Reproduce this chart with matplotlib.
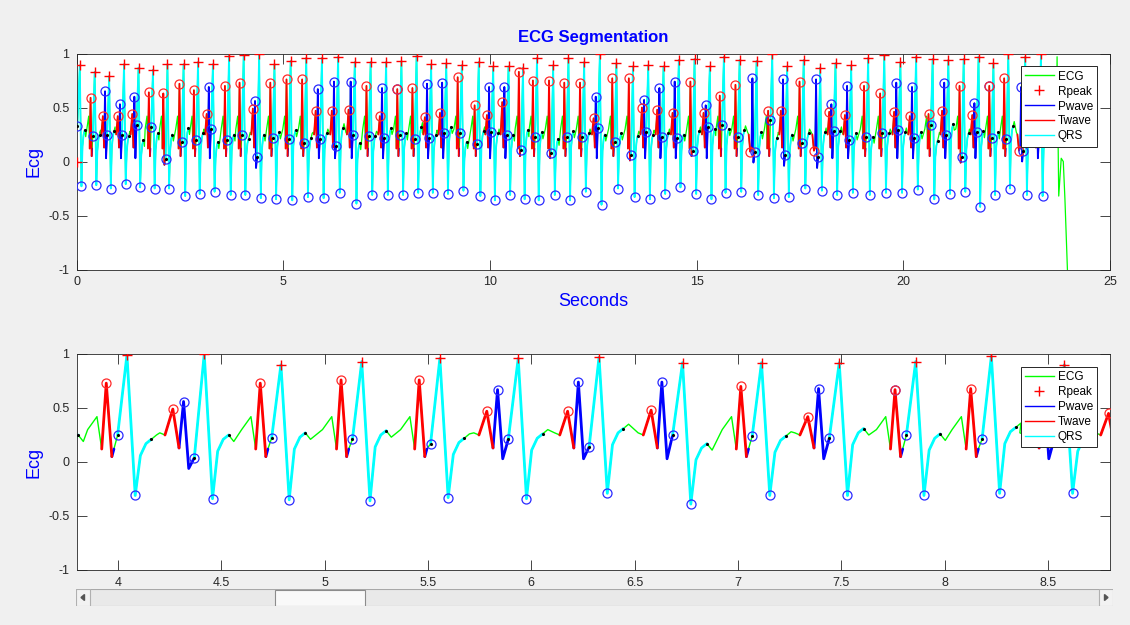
import numpy as np
import matplotlib
matplotlib.use('Agg')
import matplotlib.pyplot as plt
from matplotlib.lines import Line2D
from matplotlib.patches import Rectangle, Polygon

plt.rcParams.update({
    'font.family': ['Liberation Sans', 'DejaVu Sans'],
    'font.size': 9,
})

nan = np.nan

# beat table (seconds / ecg units)
r_t = [0.08, 0.44, 0.79, 1.15, 1.50, 1.85, 2.20, 2.59, 2.94, 3.30, 3.69,
       4.044, 4.418, 4.789, 5.18, 5.558, 5.937, 6.328, 6.732, 7.114, 7.49, 7.86, 8.226, 8.579,
       8.945, 9.32, 9.73, 10.08, 10.45, 10.80, 11.14, 11.53, 11.90, 12.28,
       12.66, 13.06, 13.46, 13.83, 14.20, 14.57, 14.95, 15.32, 15.66, 16.04, 16.45, 16.83,
       17.19, 17.59, 17.99, 18.36, 18.74,
       19.15, 19.54, 19.93, 20.31, 20.71, 21.09, 21.46, 21.82, 22.18, 22.54, 22.95, 23.33]
r_v = [0.89, 0.83, 0.79, 0.90, 0.87, 0.85, 0.90, 0.90, 0.92, 0.90, 0.98,
       0.99, 1.00, 0.90, 0.93, 0.96, 0.96, 0.97, 0.92, 0.92, 0.92, 0.93, 0.98, 0.90,
       0.91, 0.89, 0.92, 0.88, 0.88, 0.87, 0.96, 0.89, 0.96, 0.92,
       1.00, 0.91, 0.88, 0.89, 0.88, 0.94, 0.95, 0.88, 0.97, 0.94, 0.93, 1.00,
       0.88, 0.94, 0.87, 0.91, 0.89,
       0.96, 0.99, 0.92, 0.97, 0.95, 0.94, 0.95, 0.97, 0.91, 1.00, 0.97, 1.00]
s_v = [-0.23, -0.22, -0.25, -0.21, -0.24, -0.25, -0.25, -0.32, -0.30, -0.28, -0.31,
       -0.31, -0.34, -0.35, -0.36, -0.33, -0.34, -0.29, -0.39, -0.31, -0.31, -0.31, -0.29, -0.29,
       -0.30, -0.27, -0.32, -0.36, -0.31, -0.35, -0.36, -0.31, -0.36, -0.28,
       -0.40, -0.25, -0.33, -0.35, -0.30, -0.24, -0.30, -0.35, -0.29, -0.28, -0.31, -0.34,
       -0.33, -0.25, -0.27, -0.31, -0.29,
       -0.31, -0.29, -0.29, -0.26, -0.35, -0.30, -0.28, -0.42, -0.31, -0.25, -0.31, -0.32]
# red circled wave ("Twave") and blue circled wave ("Pwave") peaks, nan = none
t_peak = [nan, 0.59, 0.42, 0.42, 0.44, 0.64, 0.63, 0.72, 0.66, 0.44, 0.70,
          0.73, 0.49, 0.73, 0.76, 0.76, 0.47, 0.47, 0.48, 0.70, 0.42, 0.67, 0.68, 0.41,
          0.45, 0.78, 0.52, 0.43, 0.55, 0.83, 0.75, 0.75, 0.73, 0.73,
          0.40, 0.77, 0.77, 0.50, 0.48, 0.45, 0.74, 0.45, 0.61, 0.71, 0.09, 0.47,
          0.47, 0.74, 0.10, 0.46, 0.43,
          0.70, 0.63, 0.46, 0.42, 0.44, 0.47, 0.70, 0.43, 0.70, 0.77, 0.10, 0.45]
p_peak = [nan, nan, 0.65, 0.53, 0.60, nan, nan, nan, nan, 0.69, nan,
          nan, 0.56, nan, nan, nan, 0.67, 0.74, 0.74, nan, 0.68, nan, nan, 0.72,
          0.73, nan, nan, 0.69, 0.69, nan, nan, nan, nan, nan,
          0.60, nan, nan, 0.57, 0.68, 0.74, nan, 0.52, nan, nan, 0.77, nan,
          0.76, nan, 0.76, 0.53, 0.70,
          nan, nan, 0.73, 0.69, nan, 0.73, nan, 0.54, nan, nan, 0.69, 0.65]
qrs_on = [0.33, 0.24, 0.25, 0.25, 0.34, 0.32, 0.02, 0.18, 0.20, 0.30, 0.20,
          0.25, 0.04, 0.22, 0.21, 0.17, 0.21, 0.14, 0.25, 0.24, 0.22, 0.25, 0.21, 0.22,
          0.26, 0.26, 0.16, 0.27, 0.25, 0.11, 0.23, 0.08, 0.23, 0.23,
          0.31, 0.18, 0.06, 0.27, 0.23, 0.22, 0.10, 0.32, 0.34, 0.23, 0.09, 0.38,
          0.06, 0.17, 0.04, 0.28, 0.20,
          0.23, 0.26, 0.29, 0.22, 0.34, 0.25, 0.04, 0.27, 0.22, 0.21, 0.10, 0.20]
qrs_off = [0.29, 0.25, 0.28, 0.24, 0.20, 0.26, 0.25, 0.31, 0.26, 0.18, 0.25,
           0.21, 0.25, 0.27, 0.29, 0.22, 0.26, 0.31, 0.17, 0.24, 0.31, 0.26, 0.32, 0.25,
           0.32, 0.18, 0.28, 0.26, 0.25, 0.29, 0.27, 0.21, 0.28, 0.26,
           0.25, 0.26, 0.24, 0.25, 0.26, 0.25, 0.28, 0.30, 0.30, 0.29, 0.27, 0.22,
           0.25, 0.26, 0.27, 0.28, 0.26,
           0.23, 0.26, 0.27, 0.27, 0.19, 0.35, 0.26, 0.28, 0.27, 0.33, 0.26, 0.26]
shared_circle = [21, 59]       # blue circle sitting on the red peak
stray_rpeak_t = [0.0]
stray_rpeak_v = [0.0]
# end of the record (lead-off artefact)
tail_t = [23.55, 23.70, 23.72, 23.76, 23.82, 23.87, 23.91, 23.97]
tail_v = [0.28, 0.30, 0.97, -0.32, 0.03, 0.0, -0.35, -1.0]

BUMP = 0.42      # small green bump before the red wave
OFF_DT = 0.118   # QRS offset after the R peak

ecg = []
tw_seg, pw_seg, qrs_seg = [], [], []
red_circ, blue_circ, dots = [], [], []

for i, r in enumerate(r_t):
    on, off = qrs_on[i], qrs_off[i]
    w1, w2 = t_peak[i], p_peak[i]
    path = []
    if i == 0:
        on_t = r - 0.06
    else:
        t0 = r_t[i - 1] + OFF_DT
        if np.isnan(w2):
            red_end = min(0.05, on - 0.05)
            pre = [(t0 + 0.025, qrs_off[i - 1] - 0.06), (r - 0.19, 0.30), (r - 0.145, BUMP)]
            tw = [(r - 0.122, 0.12), (r - 0.10, w1), (r - 0.073, red_end)]
            pw = [(r - 0.073, red_end), (r - 0.063, red_end + 0.07)]
            on_t = r - 0.045
            red_circ.append((r - 0.10, w1))
            if i in shared_circle:
                blue_circ.append((r - 0.10, w1))
        else:
            bdip = min(0.03, on - 0.1)
            pre = [(t0 + 0.025, qrs_off[i - 1] + 0.04), (r - 0.215, 0.27)]
            tw = [(r - 0.19, 0.25), (r - 0.152, w1), (r - 0.122, 0.13)]
            pw = [(r - 0.122, 0.13), (r - 0.10, w2), (r - 0.075, bdip), (r - 0.048, on)]
            on_t = r - 0.048
            red_circ.append((r - 0.152, w1))
            blue_circ.append((r - 0.10, w2))
        pre = [p for p in pre if t0 + 0.005 < p[0] < tw[0][0] - 0.005]
        path += pre + tw + pw[1:]
        tw_seg.append(tw)
        pw_seg.append(pw)
    qrs = [(on_t, on), (r, r_v[i]), (r + 0.04, s_v[i]), (r + 0.065, off - 0.15),
           (r + 0.092, off - 0.04), (r + OFF_DT, off)]
    if not path or path[-1][0] < on_t:
        path.append((on_t, on))
    path += qrs[1:]
    ecg += path
    qrs_seg.append(qrs)
    blue_circ.append((r + 0.04, s_v[i]))
    blue_circ.append((on_t, on))
    dots += [(on_t, on), (r + OFF_DT, off)]

ecg += list(zip(tail_t, tail_v))


def joined(segs):
    xs, ys = [], []
    for s in segs:
        xs += [p[0] for p in s] + [nan]
        ys += [p[1] for p in s] + [nan]
    return xs, ys


ecg_x, ecg_y = zip(*ecg)
tw_x, tw_y = joined(tw_seg)
pw_x, pw_y = joined(pw_seg)
qrs_x, qrs_y = joined(qrs_seg)

GRAY = '#262626'
BG = '#f0f0f0'
yt = [-1, -0.5, 0, 0.5, 1]
yt_lab = ['-1', '-0.5', '0', '0.5', '1']


def draw(ax, lw_c, lw_g):
    ax.plot(ecg_x, ecg_y, color='#00ff00', lw=lw_g, zorder=2)
    ax.plot(pw_x, pw_y, color='#0000ff', lw=lw_c, zorder=2.2, solid_capstyle='round')
    ax.plot(tw_x, tw_y, color='#ff0000', lw=lw_c, zorder=2.3, solid_capstyle='round')
    ax.plot(qrs_x, qrs_y, color='#00ffff', lw=lw_c, zorder=2.4, solid_capstyle='round')
    ax.plot(list(r_t) + stray_rpeak_t, list(r_v) + stray_rpeak_v, ls='none', marker='+',
            color='#ff0000', ms=7, mew=1.0, zorder=4)
    bx, by = zip(*blue_circ)
    ax.plot(bx, by, ls='none', marker='o', mfc='none', mec='#2a2aff', ms=6.5, mew=0.9, zorder=4)
    rx, ry = zip(*red_circ)
    ax.plot(rx, ry, ls='none', marker='o', mfc='none', mec='#ff2a2a', ms=6.5, mew=0.9, zorder=4)
    dx, dy = zip(*dots)
    ax.plot(dx, dy, ls='none', marker='.', color='k', ms=2.5, zorder=4.5)

    ax.set_ylim(-1, 1)
    ax.set_yticks(yt, yt_lab)
    ax.set_facecolor('white')
    for sp in ax.spines.values():
        sp.set_color(GRAY)
        sp.set_linewidth(0.6)
    ax.tick_params(direction='in', length=7, width=0.6, top=True, right=True,
                   colors=GRAY, labelsize=9, pad=5)
    ax.set_ylabel('Ecg', color='#0000ff', fontsize=13, labelpad=4)

    handles = [Line2D([], [], color='#00ff00', lw=1),
               Line2D([], [], ls='none', marker='+', color='#ff0000', ms=7),
               Line2D([], [], color='#0000ff', lw=1),
               Line2D([], [], color='#ff0000', lw=1),
               Line2D([], [], color='#00ffff', lw=1)]
    leg = ax.legend(handles, ['ECG', 'Rpeak', 'Pwave', 'Twave', 'QRS'], loc='upper right',
                    fontsize=8.5, fancybox=False, framealpha=1, edgecolor=GRAY,
                    borderaxespad=1.1, handlelength=2.4, labelspacing=0.25,
                    borderpad=0.35, handletextpad=0.35)
    leg.get_frame().set_linewidth(0.7)


fig = plt.figure(figsize=(11.3, 6.25), dpi=100, facecolor=BG)
W, H = 1130, 625

ax1 = fig.add_axes([76.5 / W, (H - 269.5) / H, 1033.5 / W, 216 / H])
draw(ax1, 1.3, 0.9)
ax1.set_xlim(0, 25)
ax1.set_xticks([0, 5, 10, 15, 20, 25], ['0', '5', '10', '15', '20', '25'])
ax1.set_title('ECG Segmentation', color='#0000ff', fontweight='bold', fontsize=12, pad=8)
ax1.set_xlabel('Seconds', color='#0000ff', fontsize=13, labelpad=3)

ax2 = fig.add_axes([76.5 / W, (H - 570) / H, 1033.5 / W, 216 / H])
draw(ax2, 2.0, 1.0)
ax2.set_xlim(3.8, 8.8)
xt = [4, 4.5, 5, 5.5, 6, 6.5, 7, 7.5, 8, 8.5]
ax2.set_xticks(xt, [f'{v:g}' for v in xt])

# scroll bar under the zoomed panel (pixel units)
sb = fig.add_axes([76 / W, (H - 606) / H, 1037 / W, 17 / H])
sb.set_xlim(0, 1037)
sb.set_ylim(0, 17)
sb.axis('off')
sb.add_patch(Rectangle((0, 0), 1037, 17, facecolor='#e9e9e9', edgecolor='#a8a8a8', lw=0.8))
sb.add_patch(Rectangle((0, 0), 14, 17, facecolor='#f2f2f2', edgecolor='#b0b0b0', lw=0.8))
sb.add_patch(Rectangle((1023, 0), 14, 17, facecolor='#f2f2f2', edgecolor='#b0b0b0', lw=0.8))
sb.add_patch(Rectangle((199, 0.5), 90, 16, facecolor='#f9f9f9', edgecolor='#8c8c8c', lw=0.8))
sb.add_patch(Polygon([[5, 8.5], [8.5, 11.5], [8.5, 5.5]], closed=True, color='#555555'))
sb.add_patch(Polygon([[1032, 8.5], [1028.5, 11.5], [1028.5, 5.5]], closed=True, color='#555555'))

fig.savefig('out.png', dpi=100, facecolor=BG)
